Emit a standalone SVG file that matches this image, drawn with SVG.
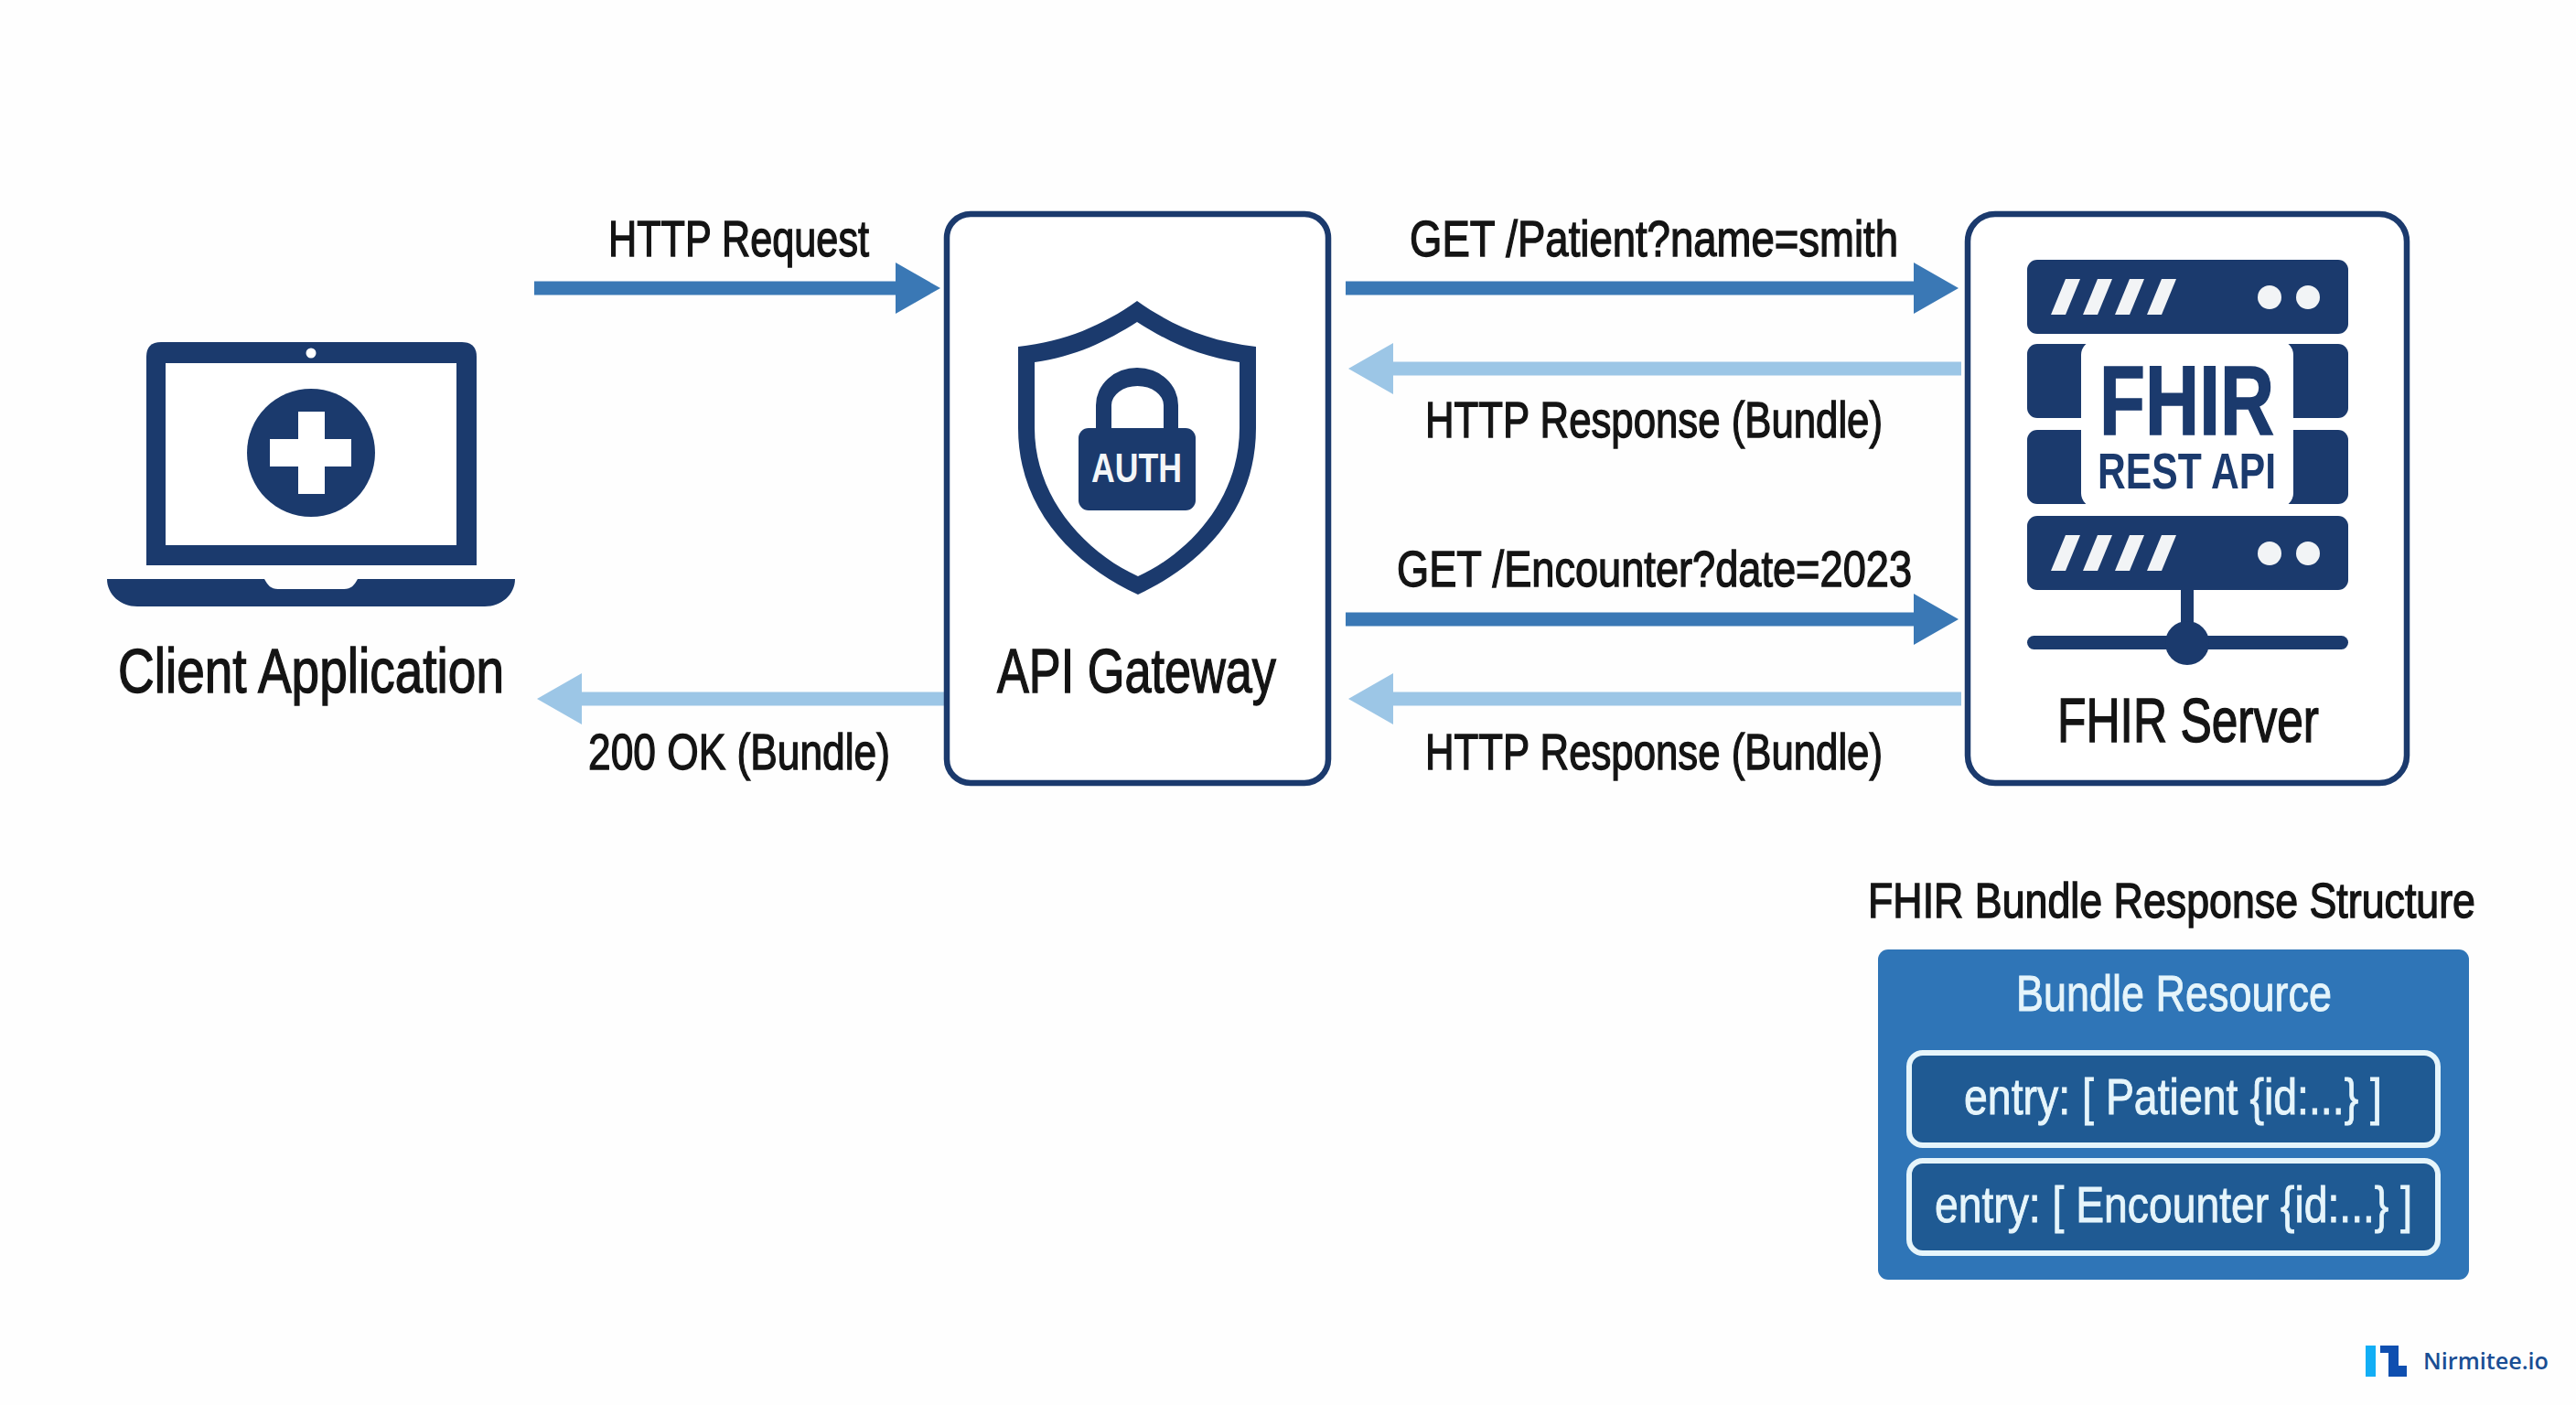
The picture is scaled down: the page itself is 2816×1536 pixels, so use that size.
<svg xmlns="http://www.w3.org/2000/svg" width="2816" height="1536" viewBox="0 0 2816 1536">
<style>
.t{font-family:"Liberation Sans",Arial,sans-serif;fill:#141414;stroke:#141414;stroke-width:1.4px;font-size:56px}
.big{font-size:68px}
.navy{fill:#1b3a6d}
.box{fill:#fff;stroke:#1b3a6d;stroke-width:6.5px}
.w{fill:#fff}
.req{stroke:#3a78b5;stroke-width:15px;fill:none}
.res{stroke:#9cc6e6;stroke-width:15px;fill:none}
.ent{fill:#1f5a93;stroke:#e6f5fb;stroke-width:6px}
.lt{font-family:"Liberation Sans",Arial,sans-serif;fill:#e6f5fb;stroke:#e6f5fb;stroke-width:.9px;font-size:56px}
.hd{font-family:"Liberation Sans",Arial,sans-serif;font-weight:700;fill:#1b3a6d}
</style>
<defs>
<marker id="hReq" markerUnits="userSpaceOnUse" markerWidth="50" markerHeight="58" refX="0" refY="29" orient="auto"><path d="M0 1L49 29L0 57Z" fill="#3a78b5"/></marker>
<marker id="hRes" markerUnits="userSpaceOnUse" markerWidth="50" markerHeight="58" refX="0" refY="29" orient="auto"><path d="M0 1L49 29L0 57Z" fill="#9cc6e6"/></marker>
<g id="rack">
<rect x="2216" y="0" width="351" height="81" rx="11" class="navy"/>
<g fill="#f2f4f6">
<path d="M2258 21H2274L2258 60H2242Z"/><path d="M2293 21H2309L2293 60H2277Z"/><path d="M2328 21H2344L2328 60H2312Z"/><path d="M2363 21H2379L2363 60H2347Z"/>
<circle cx="2481" cy="41" r="13"/><circle cx="2523" cy="41" r="13"/>
</g>
</g>
</defs>
<rect width="2816" height="1536" fill="#fefefe"/>

<g id="connectors">
<line class="req" x1="584" y1="315" x2="979" y2="315" marker-end="url(#hReq)"/>
<line class="res" x1="1033" y1="764" x2="636" y2="764" marker-end="url(#hRes)"/>
<line class="req" x1="1471" y1="315" x2="2092" y2="315" marker-end="url(#hReq)"/>
<line class="res" x1="2144" y1="403" x2="1523" y2="403" marker-end="url(#hRes)"/>
<line class="req" x1="1471" y1="677" x2="2092" y2="677" marker-end="url(#hReq)"/>
<line class="res" x1="2144" y1="764" x2="1523" y2="764" marker-end="url(#hRes)"/>
<text class="t" x="665" y="280" textLength="285" lengthAdjust="spacingAndGlyphs">HTTP Request</text>
<text class="t" x="643" y="841" textLength="330" lengthAdjust="spacingAndGlyphs">200 OK (Bundle)</text>
<text class="t" x="1541" y="280" textLength="534" lengthAdjust="spacingAndGlyphs">GET /Patient?name=smith</text>
<text class="t" x="1558" y="478" textLength="500" lengthAdjust="spacingAndGlyphs">HTTP Response (Bundle)</text>
<text class="t" x="1527" y="641" textLength="563" lengthAdjust="spacingAndGlyphs">GET /Encounter?date=2023</text>
<text class="t" x="1558" y="841" textLength="500" lengthAdjust="spacingAndGlyphs">HTTP Response (Bundle)</text>
</g>

<g id="client-application">
<path class="navy" d="M160 618V390Q160 374 176 374H505Q521 374 521 390V618Z"/>
<rect class="w" x="181" y="397" width="318" height="199"/>
<circle class="w" cx="340" cy="386" r="5.500"/>
<circle class="navy" cx="340" cy="495" r="70"/>
<path class="w" d="M326 450H355V480H384V510H355V540H326V510H295V480H326Z"/>
<path class="navy" d="M117 633H289C293 640 296 644 304 644H376C384 644 387 640 391 633H563C563 650 548 663 530 663H150C132 663 117 650 117 633Z"/>
<text class="t big" x="129" y="757" textLength="422" lengthAdjust="spacingAndGlyphs">Client Application</text>
</g>

<g id="api-gateway">
<rect class="box" x="1035" y="234" width="417" height="622" rx="26"/>
<path class="navy" fill-rule="evenodd" d="M1243 329C1205 356 1165 373 1113 379V468C1113 558 1175 618 1244 650C1313 618 1373 558 1373 468V379C1321 373 1281 356 1243 329ZM1243 352C1210 373 1175 390 1131 396V468C1131 543 1185 603 1244 630C1303 603 1355 543 1355 468V396C1311 390 1276 373 1243 352Z"/>
<path class="navy" fill-rule="evenodd" d="M1198 473V443A45 41 0 0 1 1288 443V473H1272V443A28.500 21 0 0 0 1215 443V473Z"/>
<rect class="navy" x="1179" y="468" width="128" height="90" rx="11"/>
<text class="hd" x="1193" y="527" font-size="44" style="fill:#f4f6f8" textLength="99" lengthAdjust="spacingAndGlyphs">AUTH</text>
<text class="t big" x="1090" y="757" textLength="305" lengthAdjust="spacingAndGlyphs">API Gateway</text>
</g>

<g id="fhir-server">
<rect class="box" x="2151" y="234" width="480" height="622" rx="30"/>
<use href="#rack" y="284"/>
<rect class="navy" x="2216" y="376" width="351" height="81" rx="11"/>
<rect class="navy" x="2216" y="470" width="351" height="81" rx="11"/>
<rect class="w" x="2275" y="372" width="232" height="183" rx="16"/>
<use href="#rack" y="564"/>
<rect class="navy" x="2384" y="640" width="14" height="58"/>
<rect class="navy" x="2216" y="695" width="351" height="15" rx="7.500"/>
<circle class="navy" cx="2391" cy="703" r="24"/>
<text class="hd" x="2295" y="475" font-size="108" textLength="191" lengthAdjust="spacingAndGlyphs" style="stroke:#1b3a6d;stroke-width:1.5px">FHIR</text>
<text class="hd" x="2293" y="534" font-size="56" textLength="195" lengthAdjust="spacingAndGlyphs">REST API</text>
<text class="t big" x="2249" y="811" textLength="286" lengthAdjust="spacingAndGlyphs">FHIR Server</text>
</g>

<g id="bundle-structure">
<text class="t" x="2042" y="1003" font-size="53" style="font-size:53px" textLength="664" lengthAdjust="spacingAndGlyphs">FHIR Bundle Response Structure</text>
<rect x="2053" y="1038" width="646" height="361" rx="11" fill="#2f75b7"/>
<text class="lt" x="2204" y="1105" textLength="345" lengthAdjust="spacingAndGlyphs">Bundle Resource</text>
<rect class="ent" x="2087" y="1151" width="578" height="101" rx="15"/>
<text class="lt" x="2147" y="1218" textLength="457" lengthAdjust="spacingAndGlyphs">entry: [ Patient {id:...} ]</text>
<rect class="ent" x="2087" y="1269" width="578" height="101" rx="15"/>
<text class="lt" x="2115" y="1336" textLength="522" lengthAdjust="spacingAndGlyphs">entry: [ Encounter {id:...} ]</text>
</g>

<g id="nirmitee-logo">
<rect x="2586" y="1471" width="11" height="34" fill="#12aef5"/>
<path d="M2602 1471H2622V1493H2631V1505H2611V1479H2602Z" fill="#0f4fb0"/>
<text x="2649" y="1497" font-family="'Open Sans','Liberation Sans',sans-serif" font-weight="600" font-size="26" fill="#1a4e94" textLength="137" lengthAdjust="spacingAndGlyphs">Nirmitee.io</text>
</g>
</svg>
